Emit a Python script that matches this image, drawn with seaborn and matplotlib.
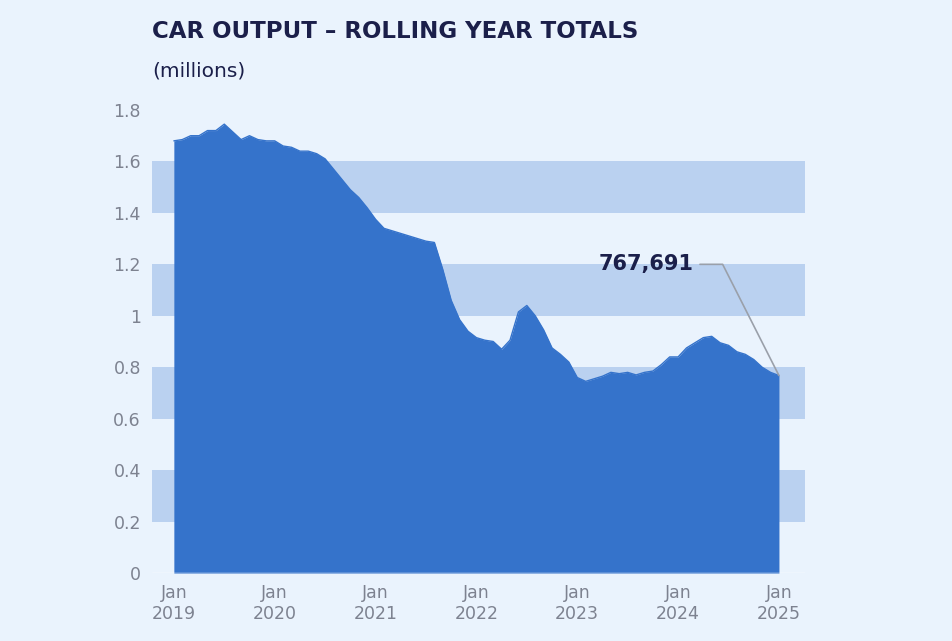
import numpy as np
import pandas as pd
import matplotlib
matplotlib.use("Agg")
import matplotlib.pyplot as plt
import seaborn as sns

# rolling year car output, millions, monthly Jan 2019 .. Jan 2025
output_m = [
    1.68, 1.685, 1.70, 1.70, 1.72, 1.72, 1.745, 1.715, 1.685, 1.70, 1.685, 1.68,
    1.68, 1.66, 1.655, 1.64, 1.64, 1.63, 1.61, 1.57, 1.53, 1.49, 1.46, 1.42,
    1.375, 1.34, 1.33, 1.32, 1.31, 1.30, 1.29, 1.285, 1.18, 1.06, 0.985, 0.94,
    0.915, 0.905, 0.90, 0.87, 0.905, 1.015, 1.04, 1.00, 0.945, 0.875, 0.85, 0.82,
    0.76, 0.745, 0.755, 0.765, 0.78, 0.775, 0.78, 0.77, 0.78, 0.785, 0.81, 0.84,
    0.84, 0.875, 0.895, 0.915, 0.92, 0.895, 0.885, 0.86, 0.85, 0.83, 0.80, 0.78,
    0.767691,
]
tick_years = ["2019", "2020", "2021", "2022", "2023", "2024", "2025"]
y_ticks = [0, 0.2, 0.4, 0.6, 0.8, 1.0, 1.2, 1.4, 1.6, 1.8]
y_labels = ["0", "0.2", "0.4", "0.6", "0.8", "1", "1.2", "1.4", "1.6", "1.8"]
bands = [(0.2, 0.4), (0.6, 0.8), (1.0, 1.2), (1.4, 1.6)]

df = pd.DataFrame({"month": np.arange(len(output_m)), "output": output_m})

BG = "#EAF3FD"
NAVY = "#1B1F4A"
FILL = "#3573CB"
GREY = "#7D8290"

sns.set_theme(style="white", rc={"font.family": "DejaVu Sans"})
fig = plt.figure(figsize=(9.53, 6.41), dpi=100, facecolor=BG)
ax = fig.add_axes([152 / 953, 68 / 641, (805 - 152) / 953, (573 - 110) / 641])
ax.set_facecolor(BG)

for lo, hi in bands:
    ax.axhspan(lo, hi, color="#BAD1F0", zorder=0, lw=0)

ax.fill_between(df["month"], 0, df["output"], color=FILL, lw=0, zorder=2)
sns.lineplot(data=df, x="month", y="output", color=FILL, lw=1, ax=ax, zorder=3)

ax.set_xlim(-2.6, 75.1)
ax.set_ylim(0, 1.8)
ax.set_yticks(y_ticks)
ax.set_yticklabels(y_labels)
ax.set_xticks(np.arange(0, 73, 12))
ax.set_xticklabels([f"Jan\n{y}" for y in tick_years])
ax.tick_params(axis="both", length=0, labelsize=12.5, colors=GREY, pad=8)
ax.set_xlabel("")
ax.set_ylabel("")
for s in ax.spines.values():
    s.set_visible(False)
ax.axhline(0, color="white", lw=1, zorder=4)

# annotation
last = len(output_m) - 1
ax.plot([62.6, 65.3, last], [1.2, 1.2, output_m[-1]], color="#9AA0AA", lw=1.2, zorder=5)
ax.text(61.8, 1.2, "767,691", ha="right", va="center", fontsize=15,
        fontweight="heavy", color=NAVY, zorder=5)

fig.text(152 / 953, 1 - 32 / 641, "CAR OUTPUT – ROLLING YEAR TOTALS", fontsize=16.5,
         fontweight="heavy", color=NAVY, va="center")
fig.text(152 / 953, 1 - 71 / 641, "(millions)", fontsize=14.5, color=NAVY, va="center")

fig.savefig("out.png", dpi=100, facecolor=BG)
